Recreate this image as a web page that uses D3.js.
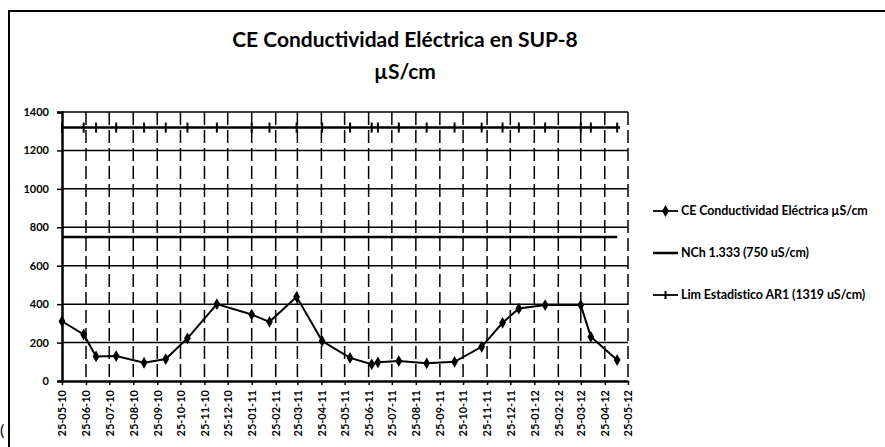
<!DOCTYPE html>
<html>
<head>
<meta charset="utf-8">
<script src="https://cdn.jsdelivr.net/npm/d3@7"></script>
<style>
body { margin:0; background:#fff; }
text { font-family: Lato, "Open Sans", sans-serif; }
</style>
</head>
<body>
<div id="chart"></div>
<script>
(function(){
var width = 885,
	height = 447,
	margin = {top:112,bottom:66,left:62,right:257};

// muestreos CE (fecha, valor uS/cm)
var sampleDates = ["2010-05-25","2010-06-22","2010-07-08","2010-08-03","2010-09-08","2010-10-06",
	"2010-11-03","2010-12-11","2011-01-25","2011-02-17","2011-03-24","2011-04-26","2011-06-01",
	"2011-06-29","2011-07-07","2011-08-03","2011-09-08","2011-10-14","2011-11-18","2011-12-15",
	"2012-01-05","2012-02-08","2012-03-25","2012-04-07","2012-05-11"];
var ceValues = [311,242,128,130,95,114,222,400,346,308,438,208,120,87,97,104,92,100,178,303,377,395,395,230,109];
var nchLimit = 750,
	arLimit = 1319;

var tickLabels = ["25-05-10","25-06-10","25-07-10","25-08-10","25-09-10","25-10-10","25-11-10","25-12-10",
	"25-01-11","25-02-11","25-03-11","25-04-11","25-05-11","25-06-11","25-07-11","25-08-11","25-09-11",
	"25-10-11","25-11-11","25-12-11","25-01-12","25-02-12","25-03-12","25-04-12","25-05-12"];
var yTicks = [0,200,400,600,800,1000,1200,1400];

var seriesNames = ["CE Conductividad Eléctrica µS/cm","NCh 1.333 (750 uS/cm)","Lim Estadistico AR1 (1319 uS/cm)"];
var title1 = "CE Conductividad Eléctrica en SUP-8",
	title2 = "µS/cm";

var parseD = d3.timeParse("%Y-%m-%d"),
	parseT = d3.timeParse("%d-%m-%y");

var data = sampleDates.map(function(d,i){ return {date: parseD(d), value: ceValues[i]}; });
var ticks = tickLabels.map(function(t){ return parseT(t); });

var X = d3.scaleTime().domain([ticks[0], ticks[ticks.length-1]]).range([margin.left, width-margin.right]);
var Y = d3.scaleLinear().domain([0,1400]).range([height-margin.bottom, margin.top]);

var svg = d3.select("#chart").append("svg")
	.attr("width",width)
	.attr("height",height);

// marco del grafico
svg.append("path")
	.attr("d","M9,447 L9,11 L885,11")
	.attr("fill","none").attr("stroke","#000").attr("stroke-width",2);
svg.append("text").attr("x",0).attr("y",436).attr("font-size",16).text("(");

// titulo
svg.append("text").attr("x",405).attr("y",47).attr("text-anchor","middle")
	.attr("font-size",21).attr("font-weight","bold").text(title1);
svg.append("text").attr("x",405).attr("y",79).attr("text-anchor","middle")
	.attr("font-size",21).attr("font-weight","bold").text(title2);

// grilla
svg.append("g").selectAll("line").data(yTicks.slice(1)).enter().append("line")
	.attr("x1",X.range()[0]).attr("x2",X.range()[1])
	.attr("y1",function(d){return Y(d)}).attr("y2",function(d){return Y(d)})
	.attr("stroke","#000").attr("stroke-width",1.5);

svg.append("g").selectAll("line").data(ticks.slice(1)).enter().append("line")
	.attr("x1",function(d){return X(d)}).attr("x2",function(d){return X(d)})
	.attr("y1",Y(1400)).attr("y2",Y(0))
	.attr("stroke","#000").attr("stroke-width",1.5)
	.attr("stroke-dasharray","13,5");

// ejes
var yAxis = svg.append("g")
	.attr("transform","translate("+margin.left+",0)")
	.call(d3.axisLeft(Y).tickValues(yTicks).tickSize(5).tickPadding(8).tickFormat(d3.format("d")));
yAxis.select(".domain").attr("stroke-width",2.5);
yAxis.selectAll(".tick line").attr("stroke-width",1.5);
yAxis.selectAll("text").attr("font-size",11).attr("font-weight","bold");

var xAxis = svg.append("g")
	.attr("transform","translate(0,"+Y(0)+")")
	.call(d3.axisBottom(X).tickValues(ticks).tickSize(4).tickSizeOuter(0)
		.tickFormat(function(d,i){return tickLabels[i]}));
xAxis.select(".domain").attr("stroke-width",2.5);
xAxis.selectAll(".tick line").attr("stroke-width",1.5);
xAxis.selectAll("text")
	.attr("font-size",11).attr("font-weight","bold")
	.attr("text-anchor","end")
	.attr("transform","rotate(-90)")
	.attr("x",-9).attr("y",0).attr("dy","0.35em");

// limite AR1
var first = data[0].date, last = data[data.length-1].date;
svg.append("line")
	.attr("x1",X(first)).attr("x2",X(last)+3)
	.attr("y1",Y(arLimit)).attr("y2",Y(arLimit))
	.attr("stroke","#000").attr("stroke-width",2.5);
svg.append("g").selectAll("line").data(data).enter().append("line")
	.attr("x1",function(d){return X(d.date)}).attr("x2",function(d){return X(d.date)})
	.attr("y1",Y(arLimit)-5).attr("y2",Y(arLimit)+5)
	.attr("stroke","#000").attr("stroke-width",2);

// NCh 1.333
svg.append("line")
	.attr("x1",X(first)).attr("x2",X(last))
	.attr("y1",Y(nchLimit)).attr("y2",Y(nchLimit))
	.attr("stroke","#000").attr("stroke-width",2.5);

// serie CE
var line = d3.line().x(function(d){return X(d.date)}).y(function(d){return Y(d.value)});
svg.append("path").datum(data)
	.attr("d",line).attr("fill","none")
	.attr("stroke","#000").attr("stroke-width",2);
var diamond = d3.symbol().type(d3.symbolDiamond).size(40);
svg.append("g").selectAll("path").data(data).enter().append("path")
	.attr("d",diamond)
	.attr("transform",function(d){return "translate("+X(d.date)+","+Y(d.value)+")"})
	.attr("fill","#000");

// leyenda
var lg = svg.append("g").attr("transform","translate(653,0)");
var rows = [211,253,295];
seriesNames.forEach(function(name,i){
	var g = lg.append("g").attr("transform","translate(0,"+rows[i]+")");
	g.append("line").attr("x1",0).attr("x2",25).attr("y1",0).attr("y2",0)
		.attr("stroke","#000").attr("stroke-width",i==1?2.5:1.8);
	if (i==0) g.append("path").attr("d",diamond).attr("transform","translate(12.5,0)").attr("fill","#000");
	if (i==2) g.append("line").attr("x1",12.5).attr("x2",12.5).attr("y1",-4).attr("y2",4)
		.attr("stroke","#000").attr("stroke-width",2);
	g.append("text").attr("x",28).attr("y",0).attr("dy","0.35em")
		.attr("font-size",12.5).attr("font-weight","bold").attr("letter-spacing","-0.1").text(name);
});

})()
</script>
</body>
</html>
